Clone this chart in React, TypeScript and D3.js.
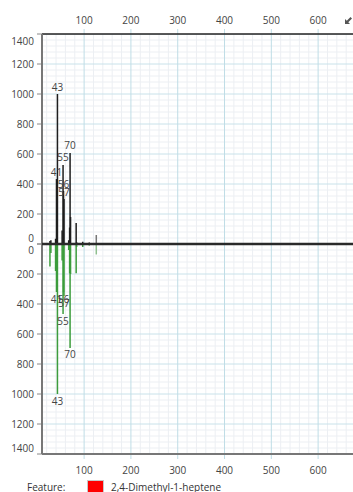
import { useMemo } from "react";
import * as d3 from "d3";

const WIDTH = 353;
const HEIGHT = 492;
const PLOT = { left: 42, top: 34, mid: 244, bottom: 454, right: 353 };
const FONT = "'Open Sans', 'Noto Sans', sans-serif";

// m/z of each fragment and intensities (measured above, library below)
const mzValues = [27, 29, 39, 41, 42, 43, 53, 55, 56, 57, 67, 69, 70, 71, 83, 84, 97, 111, 126];
const measured = [20, 25, 35, 433, 60, 1000, 90, 527, 353, 300, 25, 110, 607, 180, 140, 12, 15, 10, 60];
const library = [150, 60, 180, 320, 70, 1000, 110, 467, 320, 347, 40, 195, 693, 200, 195, 20, 20, 10, 70];
const labeledMz = [41, 43, 55, 56, 57, 70];

const xTicks = [100, 200, 300, 400, 500, 600];
const yTicks = [0, 200, 400, 600, 800, 1000, 1200, 1400];
const featureName = "2,4-Dimethyl-1-heptene";

export default function App() {
  const x = useMemo(
    () => d3.scaleLinear().domain([10, 680]).range([PLOT.left, PLOT.left + 670 * 0.468]),
    []
  );
  const yUp = useMemo(() => d3.scaleLinear().domain([0, 1400]).range([PLOT.mid, PLOT.top]), []);
  const yDown = useMemo(() => d3.scaleLinear().domain([0, 1400]).range([PLOT.mid, PLOT.bottom]), []);

  const minorX = d3.range(20, 700, 20).filter((v) => v % 100 !== 0);
  const minorY = d3.range(40, 1400, 40).filter((v) => v % 200 !== 0);

  const clamp = (v: number, lo: number, hi: number) => Math.max(lo, Math.min(hi, v));

  return (
    <svg
      width={WIDTH}
      height={HEIGHT}
      style={{ position: "absolute", left: 0, top: 0, background: "#fff" }}
      fontFamily={FONT}
    >
      <defs>
        <clipPath id="plot">
          <rect x={PLOT.left} y={PLOT.top} width={PLOT.right - PLOT.left} height={PLOT.bottom - PLOT.top} />
        </clipPath>
      </defs>

      {/* grid */}
      <g clipPath="url(#plot)">
        {minorX.map((v) => (
          <line key={"mx" + v} x1={x(v)} x2={x(v)} y1={PLOT.top} y2={PLOT.bottom} stroke="#eceff3" />
        ))}
        {minorY.map((v) => (
          <g key={"my" + v}>
            <line x1={PLOT.left} x2={PLOT.right} y1={yUp(v)} y2={yUp(v)} stroke="#eceff3" />
            <line x1={PLOT.left} x2={PLOT.right} y1={yDown(v)} y2={yDown(v)} stroke="#eceff3" />
          </g>
        ))}
        {yTicks.slice(1).map((v) => (
          <g key={"gy" + v}>
            <line x1={PLOT.left} x2={PLOT.right} y1={yUp(v)} y2={yUp(v)} stroke="#c9e2ea" />
            <line x1={PLOT.left} x2={PLOT.right} y1={yDown(v)} y2={yDown(v)} stroke="#c9e2ea" />
          </g>
        ))}
        {xTicks.map((v) => (
          <line key={"gx" + v} x1={x(v)} x2={x(v)} y1={PLOT.top} y2={PLOT.bottom} stroke="#bfdde6" />
        ))}
      </g>

      {/* x tick marks and labels, top and bottom */}
      {xTicks.map((v) => (
        <g key={"xt" + v} fontSize={10} fill="#444" textAnchor="middle">
          <line x1={x(v)} x2={x(v)} y1={PLOT.top - 5} y2={PLOT.top} stroke="#bfdde6" />
          <line x1={x(v)} x2={x(v)} y1={PLOT.bottom} y2={PLOT.bottom + 5} stroke="#bfdde6" />
          <text x={x(v)} y={20} dy="0.35em">{v}</text>
          <text x={x(v)} y={470} dy="0.35em">{v}</text>
        </g>
      ))}

      {/* y tick marks and labels */}
      {yTicks.map((v) => (
        <g key={"yt" + v} fontSize={10} fill="#444" textAnchor="end">
          <line x1={PLOT.left - 5} x2={PLOT.left} y1={yUp(v)} y2={yUp(v)} stroke="#888" />
          <line x1={PLOT.left - 5} x2={PLOT.left} y1={yDown(v)} y2={yDown(v)} stroke="#888" />
          <text x={34} y={clamp(yUp(v), PLOT.top + 7, PLOT.mid - 6)} dy="0.35em">{v}</text>
          <text x={34} y={clamp(yDown(v), PLOT.mid + 6, PLOT.bottom - 6)} dy="0.35em">{v}</text>
        </g>
      ))}

      {/* spectra */}
      <g clipPath="url(#plot)">
        {mzValues.map((m, i) => (
          <line
            key={"up" + m}
            x1={x(m)}
            x2={x(m)}
            y1={yUp(0)}
            y2={yUp(measured[i])}
            stroke={m === 126 ? "#777" : "#1e1e1e"}
            strokeWidth={1.5}
          />
        ))}
        {mzValues.map((m, i) => (
          <line
            key={"dn" + m}
            x1={x(m)}
            x2={x(m)}
            y1={yDown(0)}
            y2={yDown(library[i])}
            stroke={m === 126 ? "#8fbf8f" : "#3c9c3c"}
            strokeWidth={1.5}
          />
        ))}
      </g>

      {/* peak labels */}
      {mzValues.map((m, i) =>
        labeledMz.includes(m) ? (
          <g key={"lb" + m} fontSize={10} fill="#444" textAnchor="middle">
            <text x={x(m)} y={yUp(measured[i]) - 7} dy="0.35em">{m}</text>
            <text x={x(m)} y={yDown(library[i]) + 7} dy="0.35em">{m}</text>
          </g>
        ) : null
      )}

      {/* frame */}
      <line x1={PLOT.left} x2={PLOT.right} y1={PLOT.top} y2={PLOT.top} stroke="#222" strokeWidth={1.5} />
      <line x1={PLOT.left} x2={PLOT.right} y1={PLOT.bottom} y2={PLOT.bottom} stroke="#777" strokeWidth={2} />
      <line x1={PLOT.left} x2={PLOT.left} y1={PLOT.top} y2={PLOT.bottom} stroke="#777" strokeWidth={2} />
      <line x1={PLOT.left} x2={PLOT.right} y1={PLOT.mid} y2={PLOT.mid} stroke="#2a2a2a" strokeWidth={2.5} />

      {/* corner icon */}
      <g transform="translate(345,16)" fill="#555">
        <path d="M0,8 L0,3 L1.8,4.8 L5.5,1 L7,2.5 L3.3,6.3 L5,8 Z" />
      </g>

      {/* legend */}
      <text x={27} y={491} fontSize={10} fill="#333">Feature:</text>
      <rect x={87.5} y={480.5} width={16} height={14} fill="#ff0000" stroke="#c8c8c8" />
      <text x={111} y={491} fontSize={10} fill="#333">{featureName}</text>
    </svg>
  );
}
